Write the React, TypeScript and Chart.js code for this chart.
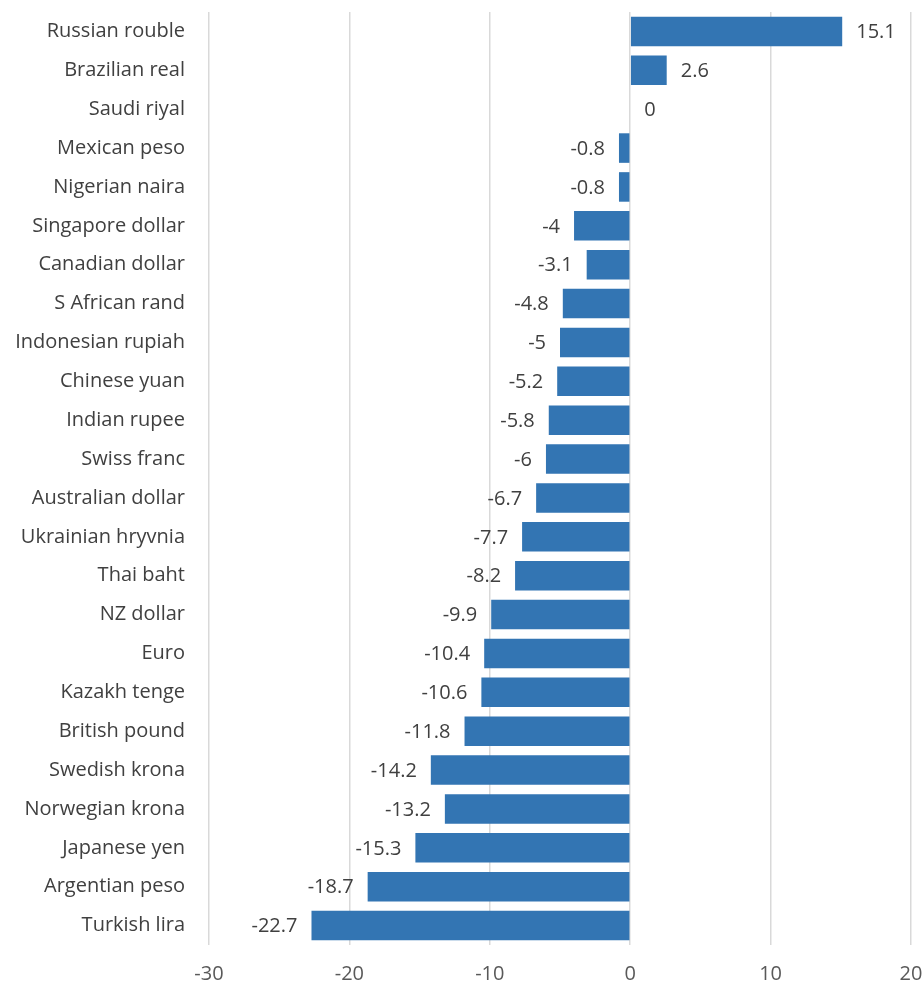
import React, { useEffect, useRef } from "react";
import { Chart, registerables } from "chart.js";

Chart.register(...registerables);

const categories = [
  "Russian rouble", "Brazilian real", "Saudi riyal", "Mexican peso", "Nigerian naira",
  "Singapore dollar", "Canadian dollar", "S African rand", "Indonesian rupiah", "Chinese yuan",
  "Indian rupee", "Swiss franc", "Australian dollar", "Ukrainian hryvnia", "Thai baht",
  "NZ dollar", "Euro", "Kazakh tenge", "British pound", "Swedish krona",
  "Norwegian krona", "Japanese yen", "Argentian peso", "Turkish lira",
];
const values = [
  15.1, 2.6, 0, -0.8, -0.8, -4, -3.1, -4.8, -5, -5.2, -5.8, -6, -6.7, -7.7, -8.2,
  -9.9, -10.4, -10.6, -11.8, -14.2, -13.2, -15.3, -18.7, -22.7,
];
const xTicks = [-30, -20, -10, 0, 10, 20];

const FONT = "'Open Sans', sans-serif";
const TEXT = "#404040";

const labelPlugin = {
  id: "barLabels",
  afterDatasetsDraw(chart: any) {
    const ctx = chart.ctx;
    const meta = chart.getDatasetMeta(0);
    ctx.save();
    ctx.font = `20px ${FONT}`;
    ctx.fillStyle = TEXT;
    ctx.textBaseline = "middle";
    meta.data.forEach((bar: any, i: number) => {
      const v = values[i];
      if (v >= 0) {
        ctx.textAlign = "left";
        ctx.fillText(String(v), bar.x + 14, bar.y + 1);
      } else {
        ctx.textAlign = "right";
        ctx.fillText(String(v), bar.x - 14, bar.y + 1);
      }
    });
    ctx.restore();
  },
};

export default function App() {
  const ref = useRef<HTMLCanvasElement>(null);
  useEffect(() => {
    const chart = new Chart(ref.current!, {
      type: "bar",
      data: {
        labels: categories,
        datasets: [
          {
            data: values,
            backgroundColor: "#3375b3",
            borderWidth: 0,
            categoryPercentage: 1,
            barPercentage: 0.76,
          },
        ],
      },
      options: {
        indexAxis: "y",
        animation: false,
        responsive: false,
        devicePixelRatio: 1,
        layout: { padding: { left: 0, right: 13, top: 12, bottom: 0 } },
        plugins: { legend: { display: false }, tooltip: { enabled: false } },
        scales: {
          x: {
            min: -30,
            max: 20,
            afterBuildTicks: (s: any) => {
              s.ticks = xTicks.map((v) => ({ value: v }));
            },
            afterFit: (s: any) => {
              s.height = 41;
              s.paddingLeft = 0;
              s.paddingRight = 0;
            },
            grid: { color: "#d9d9d9", lineWidth: 1.5, drawTicks: false },
            border: { display: false },
            ticks: { color: "#595959", font: { family: FONT, size: 20 }, padding: 17 },
          },
          y: {
            afterFit: (s: any) => {
              s.width = 209;
              s.paddingTop = 0;
              s.paddingBottom = 0;
            },
            grid: { display: false },
            border: { display: false },
            ticks: { color: TEXT, font: { family: FONT, size: 20 }, padding: 16 },
          },
        },
      },
      plugins: [labelPlugin],
    });
    return () => chart.destroy();
  }, []);
  return (
    <div style={{ position: "absolute", left: 0, top: 0, width: 924, height: 986, background: "#fff" }}>
      <canvas ref={ref} width={924} height={986} />
    </div>
  );
}
